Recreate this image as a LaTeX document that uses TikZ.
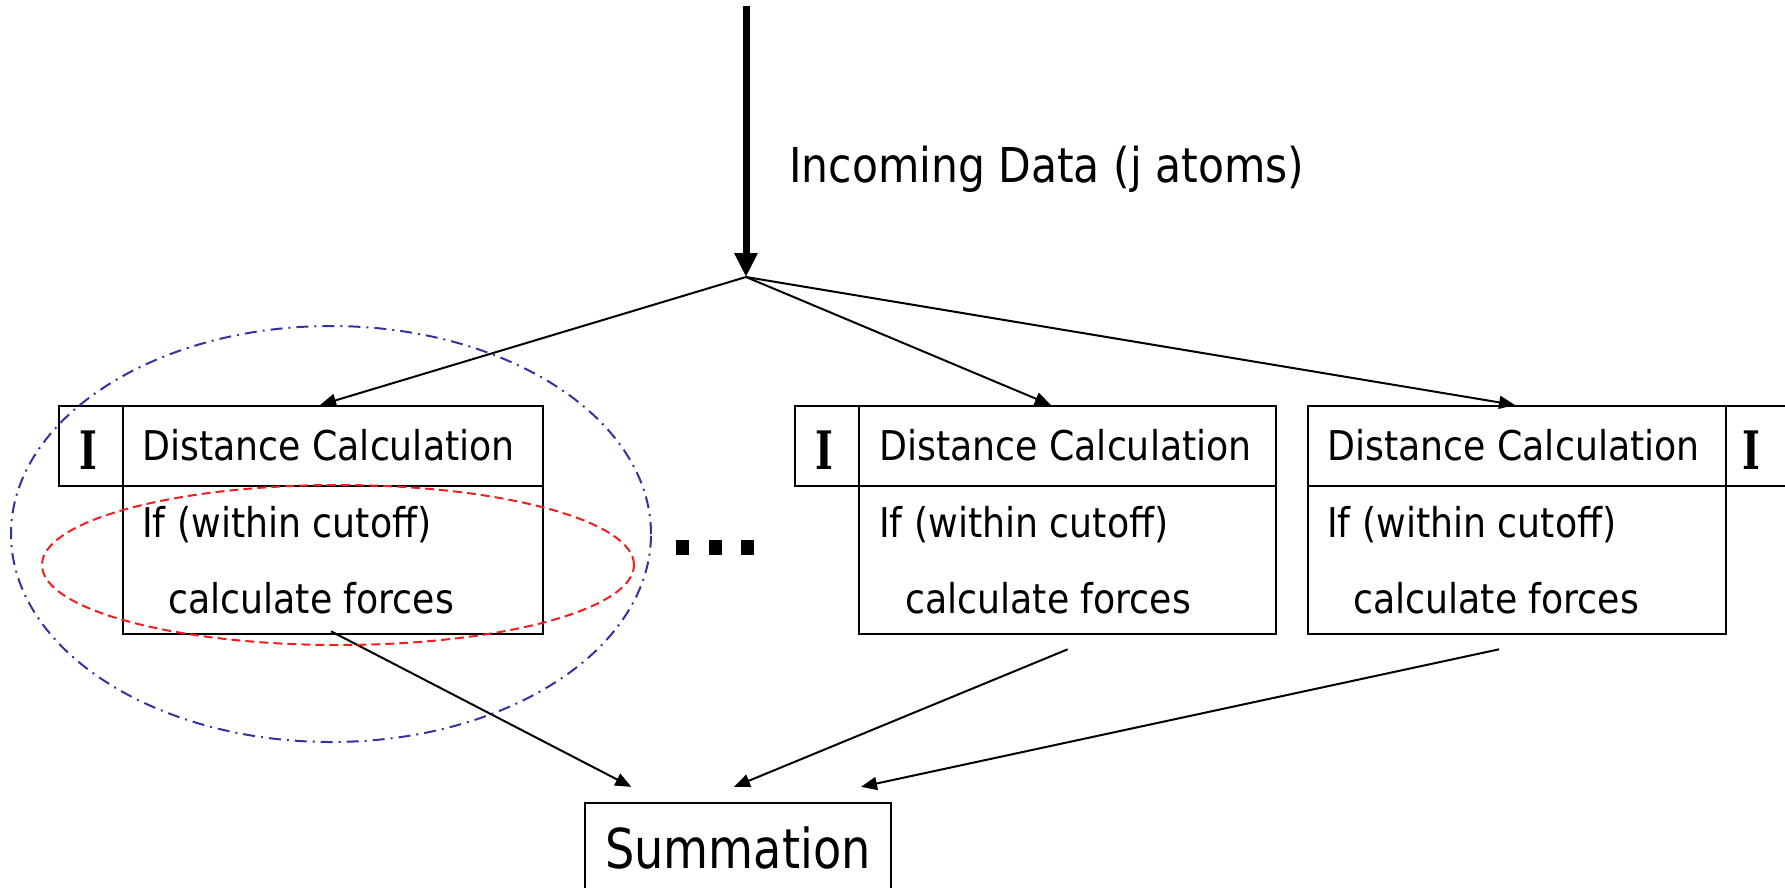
\documentclass[tikz,border=0pt]{standalone}
\usepackage{fontspec}
\setmainfont{DejaVu Sans}
\newfontfamily\boxfont[FakeStretch=0.885]{DejaVu Sans}
\newfontfamily\sumfont[FakeStretch=0.84]{DejaVu Sans}
\newfontfamily\ifont[FakeStretch=0.72]{DejaVu Serif Bold}
\usetikzlibrary{arrows.meta,calc}

\definecolor{grpblue}{RGB}{51,51,160}
\definecolor{grpred}{RGB}{240,30,30}

\begin{document}
\begin{tikzpicture}[x=1pt,y=-1pt,
  cell/.style={draw, line width=2.3pt, rectangle, inner sep=0pt, anchor=north west},
  txt/.style={anchor=base west, inner sep=0pt, font=\boxfont\fontsize{41}{41}\selectfont},
  itxt/.style={anchor=base, inner sep=0pt, font=\ifont\fontsize{53}{53}\selectfont},
  feed/.style={line width=2pt, -{Triangle[length=16pt,width=13pt]}},
  trunk/.style={line width=7pt, -{Triangle[length=24pt,width=22pt]}},
  outerring/.style={draw=grpblue, line width=2pt, dash pattern=on 12pt off 6pt on 2pt off 6pt},
  innerring/.style={draw=grpred, line width=2pt, dash pattern=on 9pt off 5pt},
]
\useasboundingbox (0,0) rectangle (1785,887);
\clip (0,0) rectangle (1785,887);

% incoming data stream
\coordinate (src) at (746,6);
\coordinate (fork) at (746,277);
\draw[trunk] (src) -- (fork);
\node[anchor=base west, inner sep=0pt, font=\boxfont\fontsize{48}{48}\selectfont] (incoming) at (789,182) {Incoming Data (j atoms)};

% pipeline 1
\node[cell, minimum width=64pt, minimum height=80pt] (i1) at (58,405) {};
\node[cell, minimum width=420pt, minimum height=80pt] (h1) at (122,405) {};
\node[cell, minimum width=420pt, minimum height=148pt] (b1) at (122,485) {};
\node[itxt] (I1) at (88.5,469) {I};
\node[txt] (d1) at (142,460) {Distance Calculation};
\node[txt] (c1) at (142,537) {If (within cutoff)};
\node[txt] (f1) at (168,613) {calculate forces};

% pipeline 2
\node[cell, minimum width=64pt, minimum height=80pt] (i2) at (794,405) {};
\node[cell, minimum width=417pt, minimum height=80pt] (h2) at (858,405) {};
\node[cell, minimum width=417pt, minimum height=148pt] (b2) at (858,485) {};
\node[itxt] (I2) at (824.5,469) {I};
\node[txt] (d2) at (879,460) {Distance Calculation};
\node[txt] (c2) at (879,537) {If (within cutoff)};
\node[txt] (f2) at (905,613) {calculate forces};

% pipeline 3
\node[cell, minimum width=418pt, minimum height=80pt] (h3) at (1307,405) {};
\node[cell, minimum width=418pt, minimum height=148pt] (b3) at (1307,485) {};
\node[cell, minimum width=70pt, minimum height=80pt] (i3) at (1725,405) {};
\node[itxt] (I3) at (1751,469) {I};
\node[txt] (d3) at (1327,460) {Distance Calculation};
\node[txt] (c3) at (1327,537) {If (within cutoff)};
\node[txt] (f3) at (1353,613) {calculate forces};

% ellipsis between pipelines
\fill (676,540) rectangle (689,555);
\fill (709,540) rectangle (722,555);
\fill (741,540) rectangle (754,555);

% summation
\node[draw, line width=2.3pt, minimum width=306pt, minimum height=90pt, inner sep=0pt,
      font=\sumfont\fontsize{55}{55}\selectfont] (sum) at (738,848) {Summation};

% fan-out
\draw[feed] (fork) -- ($(h1.north west)!0.469!(h1.north east)$);
\draw[feed] (fork) -- ($(h2.north west)!0.46!(h2.north east)$);
\draw[feed] (fork) -- ($(h3.north west)!0.495!(h3.north east)$);

% fan-in
\coordinate (s1) at ($(b1.south west)!0.495!(b1.south east)+(0,-4)$);
\coordinate (s2) at ($(b2.south west)!0.5!(b2.south east)+(0,14)$);
\coordinate (s3) at ($(b3.south west)!0.457!(b3.south east)+(0,14)$);
\coordinate (e1) at ($(sum.north west)!0.154!(sum.north east)+(0,-15)$);
\coordinate (e2) at ($(sum.north west)!0.487!(sum.north east)+(0,-15)$);
\coordinate (e3) at ($(sum.north west)!0.899!(sum.north east)+(0,-15)$);
\draw[feed] (s1) -- (e1);
\draw[feed] (s2) -- (e2);
\draw[feed] (s3) -- (e3);

% grouping rings
\draw[outerring] (331,534) ellipse [x radius=320pt, y radius=208pt];
\draw[innerring] (338,565) ellipse [x radius=296pt, y radius=80pt];
\end{tikzpicture}
\end{document}
